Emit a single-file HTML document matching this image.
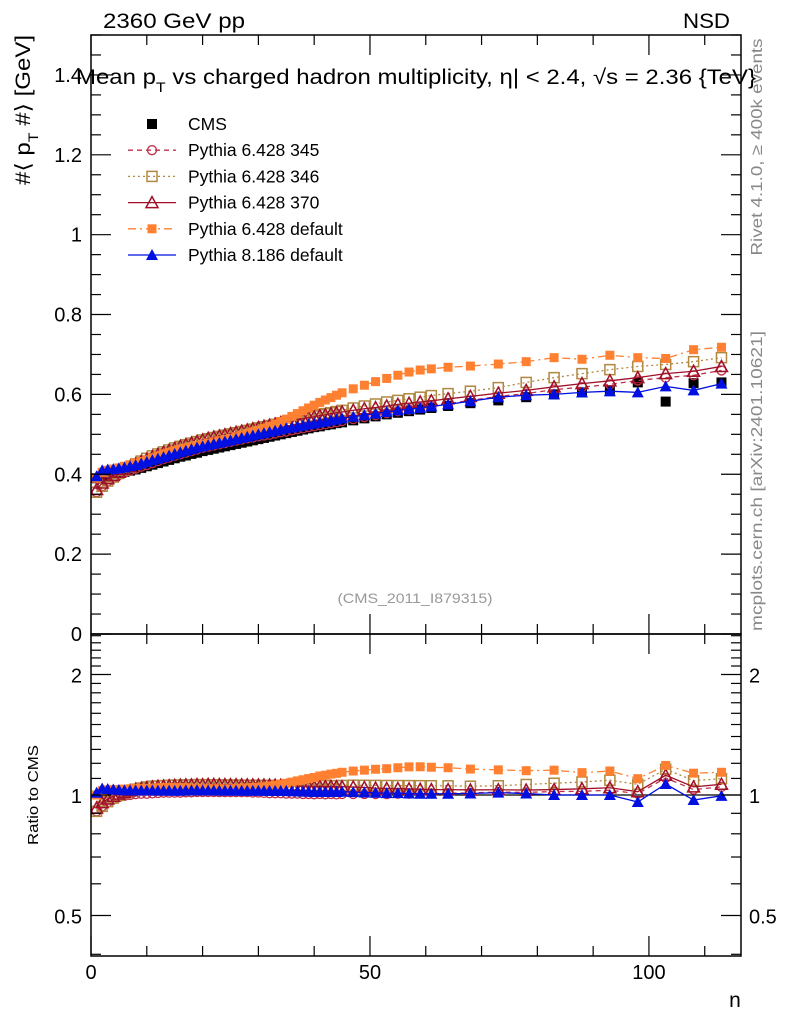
<!DOCTYPE html>
<html><head><meta charset="utf-8"><style>
html,body{margin:0;padding:0;background:#fff;}
svg{display:block;font-family:"Liberation Sans",sans-serif;}
</style></head><body>
<svg id="chart" width="786" height="1024" viewBox="0 0 786 1024" xmlns="http://www.w3.org/2000/svg">
<g id="marks"></g>
<g id="axes"></g>
<text x="103" y="28" font-size="21" textLength="142" lengthAdjust="spacingAndGlyphs">2360 GeV pp</text>
<text x="683" y="28" font-size="21" textLength="47" lengthAdjust="spacingAndGlyphs">NSD</text>
<text x="76" y="84" font-size="21" textLength="680" lengthAdjust="spacingAndGlyphs">Mean p<tspan font-size="14" dy="8">T</tspan><tspan dy="-8"> vs charged hadron multiplicity, η| &lt; 2.4, √s = 2.36 {TeV}</tspan></text>
<text transform="translate(30,110) rotate(-90)" font-size="21" text-anchor="middle" textLength="150" lengthAdjust="spacingAndGlyphs">#⟨ p<tspan font-size="14" dy="8">T</tspan><tspan dy="-8"> #⟩ [GeV]</tspan></text>
<text transform="translate(38,795) rotate(-90)" font-size="15" text-anchor="middle" textLength="100" lengthAdjust="spacingAndGlyphs">Ratio to CMS</text>
<text transform="translate(762,147) rotate(-90)" font-size="16" fill="#888" text-anchor="middle" textLength="217" lengthAdjust="spacingAndGlyphs">Rivet 4.1.0, ≥ 400k events</text>
<text transform="translate(762,481) rotate(-90)" font-size="16" fill="#888" text-anchor="middle" textLength="300" lengthAdjust="spacingAndGlyphs">mcplots.cern.ch [arXiv:2401.10621]</text>
<text x="415" y="603" font-size="14" fill="#999" text-anchor="middle" textLength="155" lengthAdjust="spacingAndGlyphs">(CMS_2011_I879315)</text>
<text x="735" y="1007" font-size="21" text-anchor="middle">n</text>
<g id="legend"></g>
</svg>
<script>
const nVals=[1,2,3,4,5,6,7,8,9,10,11,12,13,14,15,16,17,18,19,20,21,22,23,24,25,26,27,28,29,30,31,32,33,34,35,36,37,38,39,40,41,42,43,44,45,47,49,51,53,55,57,59,61,64,68,73,78,83,88,93,98,103,108,113];
const cms=[.390,.395,.398,.400,.403,.406,.409,.412,.416,.420,.424,.428,.432,.436,.440,.444,.447,.451,.454,.458,.461,.464,.467,.470,.473,.476,.479,.482,.485,.488,.491,.494,.497,.500,.503,.506,.509,.512,.515,.518,.520,.523,.525,.528,.530,.535,.540,.545,.550,.554,.558,.562,.566,.571,.578,.585,.593,.600,.605,.608,.630,.582,.628,.630];
const p345=[.355,.370,.382,.391,.398,.404,.409,.414,.419,.423,.428,.433,.438,.442,.446,.450,.454,.458,.462,.466,.469,.472,.475,.478,.481,.484,.487,.490,.492,.495,.497,.499,.502,.505,.507,.510,.513,.515,.518,.520,.523,.525,.528,.530,.533,.538,.543,.548,.553,.558,.562,.567,.571,.577,.585,.595,.602,.612,.618,.625,.635,.642,.648,.660];
const p346=[.355,.370,.383,.393,.402,.410,.418,.426,.433,.440,.446,.451,.456,.461,.466,.470,.474,.478,.482,.486,.489,.492,.495,.498,.501,.504,.507,.510,.513,.516,.519,.522,.525,.528,.531,.534,.537,.540,.543,.546,.549,.552,.554,.557,.560,.566,.571,.576,.581,.585,.589,.593,.597,.602,.608,.617,.630,.642,.652,.662,.670,.675,.682,.692];
const p370=[.362,.378,.389,.397,.405,.412,.419,.426,.432,.438,.444,.450,.455,.460,.465,.470,.474,.478,.482,.486,.490,.493,.496,.499,.502,.505,.508,.511,.514,.517,.520,.523,.526,.529,.531,.534,.537,.539,.542,.544,.547,.549,.552,.554,.556,.560,.564,.567,.571,.575,.578,.581,.584,.589,.595,.603,.610,.619,.627,.634,.642,.652,.658,.670];
const pdef=[.390,.405,.410,.413,.416,.420,.424,.428,.432,.436,.441,.446,.451,.455,.459,.463,.466,.469,.472,.475,.478,.481,.484,.487,.490,.494,.498,.502,.506,.510,.515,.520,.526,.532,.538,.545,.552,.559,.566,.573,.580,.586,.592,.598,.604,.614,.623,.632,.640,.648,.656,.661,.664,.668,.671,.676,.682,.692,.688,.698,.692,.690,.712,.718];
const p8=[.395,.410,.412,.413,.415,.417,.420,.423,.427,.431,.435,.439,.443,.447,.451,.455,.459,.463,.467,.470,.473,.476,.479,.482,.485,.488,.491,.494,.497,.500,.503,.506,.509,.512,.515,.517,.520,.522,.525,.527,.530,.532,.535,.537,.540,.544,.548,.552,.556,.560,.563,.566,.570,.575,.583,.593,.598,.600,.605,.608,.605,.620,.610,.627];
const mainTicks=["0","0.2","0.4","0.6","0.8","1","1.2","1.4"];
const mainTickVals=[0,0.2,0.4,0.6,0.8,1,1.2,1.4];
const ratioTickLabels=["0.5","1","2"];
const ratioTickVals=[0.5,1,2];
const xTickLabels=["0","50","100"];
const xTickVals=[0,50,100];

const L=91,R=741,T=35,MB=634,RB=956;
const X=n=>L+n*(R-L)/116.5;
const Y=v=>MB-v*(MB-T)/1.5;
const YR=r=>795-Math.log2(r)*120.5;
const NS="http://www.w3.org/2000/svg";
function mk(tag,attrs,parent){const e=document.createElementNS(NS,tag);for(const k in attrs)e.setAttribute(k,attrs[k]);parent.appendChild(e);return e;}
const marks=document.getElementById('marks'),axes=document.getElementById('axes'),leg=document.getElementById('legend');

const series=[
 {name:'pythia-6428-345',label:'Pythia 6.428 345',data:p345,color:'#c0304a',dash:'5,4',marker:'circle-open'},
 {name:'pythia-6428-346',label:'Pythia 6.428 346',data:p346,color:'#b08840',dash:'2,3',marker:'square-open'},
 {name:'pythia-6428-370',label:'Pythia 6.428 370',data:p370,color:'#a01028',dash:'',marker:'tri-open'},
 {name:'pythia-6428-default',label:'Pythia 6.428 default',data:pdef,color:'#ff8030',dash:'8,4,2,4',marker:'square-fill'},
 {name:'pythia-8186-default',label:'Pythia 8.186 default',data:p8,color:'#0010e0',dash:'',marker:'tri-fill'}
];
function marker(g,type,x,y,color,name){
  let e;
  if(type==='circle-open'){e=mk('circle',{cx:x,cy:y,r:4.5,fill:'none',stroke:color,'stroke-width':1.3},g);}
  else if(type==='square-open'){e=mk('rect',{x:x-5,y:y-5,width:10,height:10,fill:'none',stroke:color,'stroke-width':1.5},g);}
  else if(type==='square-fill'){e=mk('rect',{x:x-4.5,y:y-4.5,width:9,height:9,fill:color},g);}
  else if(type==='tri-open'){e=mk('polygon',{points:`${x},${y-6} ${x-6},${y+5} ${x+6},${y+5}`,fill:'none',stroke:color,'stroke-width':1.5},g);}
  else if(type==='tri-fill'){e=mk('polygon',{points:`${x},${y-6} ${x-6},${y+5} ${x+6},${y+5}`,fill:color},g);}
  else {e=mk('rect',{x:x-5,y:y-5,width:10,height:10,fill:color},g);}
  
  
}
const defs=mk('defs',{},marks);
const c1=mk('clipPath',{id:'cm'},defs);mk('rect',{x:L,y:T,width:R-L,height:MB-T},c1);
const c2=mk('clipPath',{id:'cr'},defs);mk('rect',{x:L,y:MB,width:R-L,height:RB-MB},c2);
const ul=mk('line',{x1:L,x2:R,y1:YR(1),y2:YR(1),stroke:'#000','stroke-width':1.3},marks);


const gc=mk('g',{'clip-path':'url(#cm)'},marks);


nVals.forEach((n,i)=>marker(gc,'square-black',X(n),Y(cms[i]),'#000','cms-point'));
series.forEach(s=>{
  const g=mk('g',{'clip-path':'url(#cm)'},marks);
  
  
  mk('polyline',{points:nVals.map((n,i)=>X(n)+','+Y(s.data[i])).join(' '),fill:'none',stroke:s.color,'stroke-width':1.3,'stroke-dasharray':s.dash},g);
  nVals.forEach((n,i)=>marker(g,s.marker,X(n),Y(s.data[i]),s.color,s.name+'-point'));
  const gr=mk('g',{'clip-path':'url(#cr)'},marks);
  
  
  mk('polyline',{points:nVals.map((n,i)=>X(n)+','+YR(s.data[i]/cms[i])).join(' '),fill:'none',stroke:s.color,'stroke-width':1.3,'stroke-dasharray':s.dash},gr);
  nVals.forEach((n,i)=>marker(gr,s.marker,X(n),YR(s.data[i]/cms[i]),s.color,s.name+'-ratio-point'));
});
[[T,MB],[MB,RB]].forEach((p,k)=>{
  const f=mk('rect',{x:L,y:p[0],width:R-L,height:p[1]-p[0],fill:'none',stroke:'#000','stroke-width':1.5},axes);
  
  
});
function tick(x1,y1,x2,y2){mk('line',{x1,y1,x2,y2,stroke:'#000','stroke-width':1.2},axes);}
for(let v=0;v<=1.5001;v+=0.05){const y=Y(v);const maj=Math.abs(v*5-Math.round(v*5))<1e-6;const l=maj?20:10;tick(L,y,L+l,y);tick(R,y,R-l,y);}
mainTickVals.forEach((v,i)=>{const t=mk('text',{x:L-9,y:Y(v)+7,'font-size':20,'text-anchor':'end'},axes);t.textContent=mainTicks[i];

});
for(let k=4;k<=25;k++){const r=k/10;const y=YR(r);if(y<MB||y>RB)continue;const maj=(k===5||k===10||k===20);const l=maj?20:10;tick(L,y,L+l,y);tick(R,y,R-l,y);}
ratioTickVals.forEach((v,i)=>{
 const t=mk('text',{x:L-9,y:YR(v)+8,'font-size':20,'text-anchor':'end'},axes);t.textContent=ratioTickLabels[i];
 
 
 const t2=mk('text',{x:R+8,y:YR(v)+8,'font-size':20},axes);t2.textContent=ratioTickLabels[i];
 
 
});
for(let n=0;n<=116;n+=10){const x=X(n);const maj=n%50===0;const l=maj?20:10;
 tick(x,T,x,T+l);tick(x,MB,x,MB-l);tick(x,MB,x,MB+l);tick(x,RB,x,RB-l);}
xTickVals.forEach((v,i)=>{const t=mk('text',{x:X(v),y:979,'font-size':20,'text-anchor':'middle'},axes);t.textContent=xTickLabels[i];

});
const legItems=[{label:'CMS',marker:'square-black',color:'#000',dash:null}].concat(series);
legItems.forEach((s,i)=>{
  const y=124+i*26.2;
  const g=mk('g',{},leg);
  
  
  if(s.dash!==null)mk('line',{x1:128,x2:176,y1:y,y2:y,stroke:s.color,'stroke-width':1.3,'stroke-dasharray':s.dash},g);
  marker(g,s.marker,152,y,s.color,'legend-marker');
  const t=mk('text',{x:188,y:y+6,'font-size':17.5},g);t.textContent=s.label;
});
</script>
</body></html>
